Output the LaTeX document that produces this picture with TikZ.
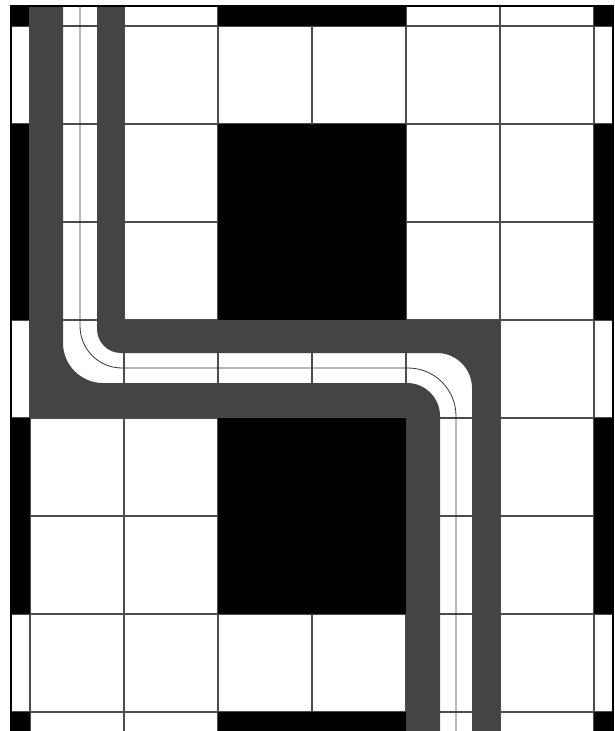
\documentclass[tikz,border=0pt]{standalone}
\usepackage{tikz}
\definecolor{asphalt}{HTML}{444444}
\tikzset{gridline/.style={draw=black!70,line width=1.2pt},
  tile/.style={fill=black},
  road/.style={fill=asphalt,even odd rule},
  midline/.style={draw=black!80,line width=0.8pt},
  frame/.style={draw=black,line width=1.4pt}}

\begin{document}
\begin{tikzpicture}[x=1pt,y=-1pt]
\useasboundingbox (0,0) rectangle (615,731);
\begin{scope}
\clip (11,6) rectangle (613,731);
% grid first, black tiles on top
\foreach \c in {0,...,6} \draw[gridline] ({30+94*\c},0) -- ({30+94*\c},740);
\foreach \r in {0,...,7} \draw[gridline] (0,{26+98*\r}) -- (620,{26+98*\r});
\foreach \c in {-1,2,3,6} \foreach \r in {-1,1,2,4,5,7}
  \fill[tile] ({30+94*\c},{26+98*\r}) rectangle +(94,98);
% road with the lane cut out
\path[road] (29,6) -- (124,6) -- (124,320) -- (500,320) -- (500,731) -- (406,731) -- (406,417) -- (29,417) -- cycle
  (97,6) -- (97,329) arc[start angle=180,end angle=90,radius=24] -- (437,353)
  arc[start angle=270,end angle=360,radius=35] -- (472,731) -- (440,731) -- (440,416)
  arc[start angle=0,end angle=-90,radius=33] -- (103,383)
  arc[start angle=90,end angle=180,radius=40] -- (63,6) -- cycle;
\draw[midline] (80,6) -- (80,326) arc[start angle=180,end angle=90,radius=42] -- (408,368)
  arc[start angle=270,end angle=360,radius=48] -- (456,731);
\end{scope}
\draw[frame] (11,731) -- (11,6) -- (613,6) -- (613,731);
\end{tikzpicture}
\end{document}
